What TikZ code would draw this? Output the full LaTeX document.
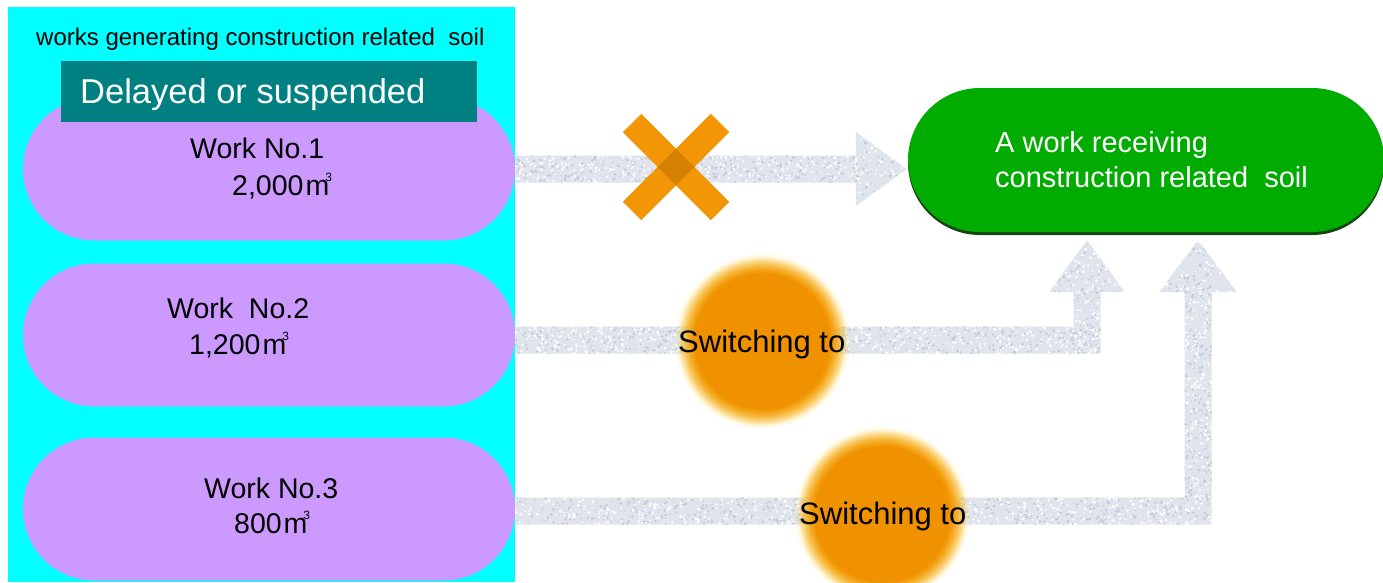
\documentclass[tikz,border=0pt]{standalone}
\usepackage{fontspec}
\setmainfont{Liberation Sans}
\usetikzlibrary{calc,shapes.misc,fadings,shadows}

\definecolor{panelcyan}{RGB}{0,255,255}
\definecolor{workpurple}{RGB}{204,153,255}
\definecolor{delayteal}{RGB}{0,128,128}
\definecolor{recvgreen}{RGB}{0,172,0}
\definecolor{shadowgreen}{RGB}{20,70,20}
\definecolor{crossorange}{RGB}{242,150,6}
\definecolor{crosscore}{RGB}{214,128,0}
\definecolor{bloborange}{RGB}{240,146,0}
\definecolor{blobyellow}{RGB}{255,214,60}
\definecolor{arrowbody}{RGB}{224,229,237}
\definecolor{graindark}{RGB}{196,203,216}

% random speckles inside a rectangle: x, y, width, height, count
\newcommand\grain[5]{%
  \foreach \k in {1,...,#5}{%
    \pgfmathsetmacro\gx{#1+rnd*#3}%
    \pgfmathsetmacro\gy{#2+rnd*#4}%
    \pgfmathsetmacro\gr{0.7+0.9*rnd}%
    \pgfmathsetmacro\gc{rnd}%
    \ifdim\gc pt<0.55pt
      \fill[white] (\gx,\gy) circle (\gr);
    \else
      \fill[graindark] (\gx,\gy) circle (\gr);
    \fi
  }}

% cubic metre sign
\newcommand\cubicm{m\kern-4pt\raisebox{14pt}{\fontsize{12}{12}\selectfont 3}}

\tikzset{
  work/.style={rounded rectangle, fill=workpurple, minimum width=492pt,
    minimum height=143pt, inner sep=0pt},
  delaybox/.style={fill=delayteal, minimum width=416pt, minimum height=61pt,
    inner sep=0pt},
  recvbox/.style={rounded rectangle, fill=recvgreen, minimum width=476pt,
    minimum height=144pt, inner sep=0pt,
    drop shadow={shadow xshift=0pt, shadow yshift=-3pt, fill=shadowgreen, opacity=1}},
  txt/.style={anchor=base west, inner sep=0pt},
  worktxt/.style={txt, font=\fontsize{28.5}{34}\selectfont},
  recvtxt/.style={txt, text=white, font=\fontsize{29}{35}\selectfont},
  switchtxt/.style={txt, font=\fontsize{31}{36}\selectfont},
  arrowfill/.style={fill=arrowbody},
  crossbar/.style={draw=crossorange, line width=26pt},
  blob/.style={fill=bloborange, path fading=circle with fuzzy edge 20 percent},
  blobrim/.style={fill=blobyellow, path fading=circle with fuzzy edge 20 percent, opacity=0.8},
}

\begin{document}
\begin{tikzpicture}[x=1pt,y=-1pt]
\pgfmathsetseed{42}
\useasboundingbox (0,0) rectangle (1383,582);
\fill[white] (0,0) rectangle (1383,582);

% left panel with the works generating soil
\fill[panelcyan] (8,7) rectangle (515,582);
\node[txt, font=\fontsize{24}{28}\selectfont] (title) at (36,45)
  {works generating construction related\ \ soil};

\node[work] (w1) at (269,169) {};
\node[work] (w2) at (269,335) {};
\node[work] (w3) at (269,509) {};

\node[delaybox, anchor=north west] (delay) at (61,61) {};
\node[txt, text=white, font=\fontsize{34.5}{40}\selectfont] (delaytxt) at (80,103)
  {Delayed or suspended};

\node[worktxt] (w1a) at (190,158) {Work No.1};
\node[worktxt] (w1b) at (232,195) {2,000\kern2pt\cubicm};
\node[worktxt] (w2a) at (167,318) {Work\ \ No.2};
\node[worktxt] (w2b) at (189,354) {1,200\kern2pt\cubicm};
\node[worktxt] (w3a) at (204,498) {Work No.3};
\node[worktxt] (w3b) at (234,533) {800\kern2pt\cubicm};

% receiving work
\node[recvbox] (g) at (1146,160) {};
\node[recvtxt] (ga) at (995,152) {A work receiving};
\node[recvtxt] (gb) at (995,187) {construction related\ \ soil};

% arrow start and tip points
\coordinate (s1) at (w1.east);
\coordinate (s2) at ($(w2.east)+(0,5)$);
\coordinate (s3) at ($(w3.east)+(0,2)$);
\coordinate (t2) at ($(g.south)+(-59,8)$);
\coordinate (t3) at ($(g.south)+(52,8)$);

% work No.1 -> receiving work (cancelled)
\fill[arrowfill, path picture={\grain{515}{153}{345}{31}{700}\grain{853}{128}{56}{80}{170}}]
  let \p1=(s1), \p2=(g.west) in
  (\x1,\y1+13.5pt) -- (\x2-52pt,\y1+13.5pt) -- (\x2-52pt,\y1+37pt) -- (\x2-1pt,\y1)
  -- (\x2-52pt,\y1-37pt) -- (\x2-52pt,\y1-13.5pt) -- (\x1,\y1-13.5pt) -- cycle;

% work No.2 -> receiving work
\fill[arrowfill, path picture={\grain{515}{325}{600}{32}{1100}\grain{1071}{288}{32}{68}{140}\grain{1046}{238}{80}{56}{170}}]
  let \p1=(s2), \p2=(t2) in
  (\x1,\y1+13.5pt) -- (\x2-13.5pt,\y1+13.5pt) -- (\x2-13.5pt,\y2-52pt) -- (\x2-38pt,\y2-52pt)
  -- (\x2,\y2) -- (\x2+38pt,\y2-52pt) -- (\x2+13.5pt,\y2-52pt) -- (\x2+13.5pt,\y1-13.5pt)
  -- (\x1,\y1-13.5pt) -- cycle;

% work No.3 -> receiving work
\fill[arrowfill, path picture={\grain{515}{495}{715}{32}{1300}\grain{1182}{288}{32}{212}{420}\grain{1157}{238}{82}{56}{170}}]
  let \p1=(s3), \p2=(t3) in
  (\x1,\y1+13.5pt) -- (\x2-13.5pt,\y1+13.5pt) -- (\x2-13.5pt,\y2-52pt) -- (\x2-39pt,\y2-52pt)
  -- (\x2,\y2) -- (\x2+39pt,\y2-52pt) -- (\x2+13.5pt,\y2-52pt) -- (\x2+13.5pt,\y1-13.5pt)
  -- (\x1,\y1-13.5pt) -- cycle;

% cross over the first arrow, darker where the bars meet
\draw[crossbar] (632,123) -- (720,211);
\draw[crossbar] (720,123) -- (632,211);
\fill[crosscore] (676,148.6) -- (694.4,167) -- (676,185.4) -- (657.6,167) -- cycle;

% switching marks
\fill[blobrim] (762,341) circle (88);
\fill[blob] (762,341) circle (84);
\fill[blobrim] (882,514) circle (88);
\fill[blob] (882,514) circle (84);

\node[switchtxt] (sw2) at (678,352) {Switching to};
\node[switchtxt] (sw3) at (799,524) {Switching to};
\end{tikzpicture}
\end{document}
